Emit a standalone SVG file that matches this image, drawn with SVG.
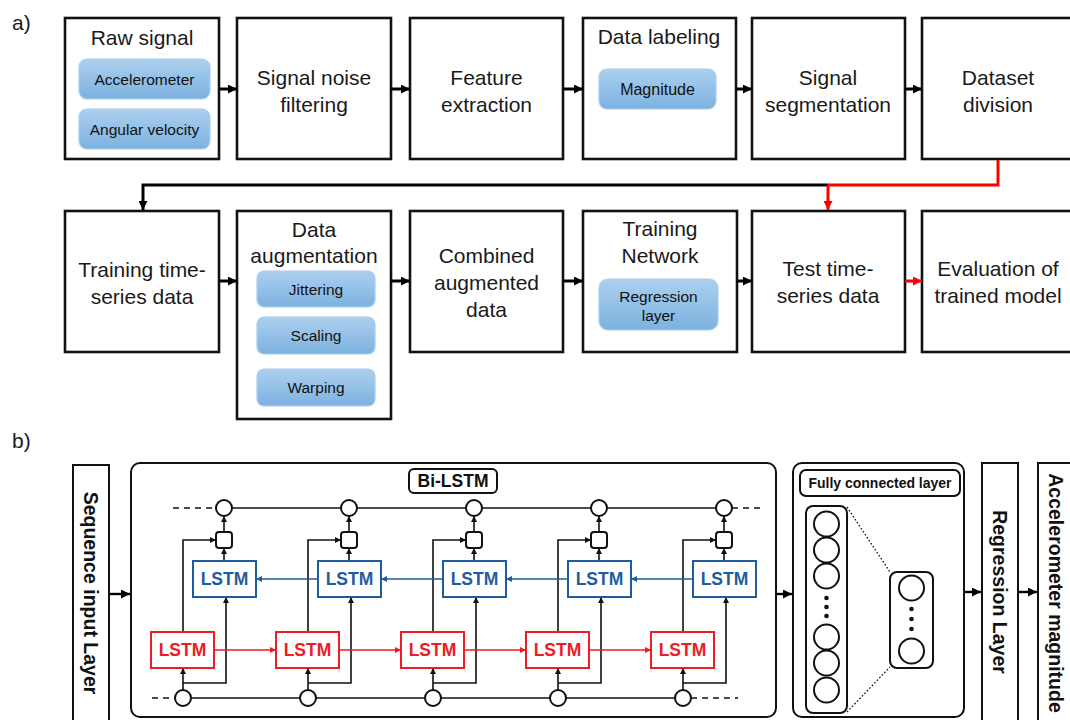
<svg xmlns="http://www.w3.org/2000/svg" width="1070" height="720" viewBox="0 0 1070 720">
<defs>
<style>
.box{fill:#fff;stroke:#111;stroke-width:2.6}
.t{font-family:"Liberation Sans",Arial,sans-serif;font-size:21px;fill:#1a1a1a;text-anchor:middle;dominant-baseline:central}
.lab{font-family:"Liberation Sans",Arial,sans-serif;font-size:21px;fill:#1a1a1a;dominant-baseline:central}
.pill{fill:url(#pg);stroke:#a9cdee;stroke-width:1.2}
.pt{font-family:"Liberation Sans",Arial,sans-serif;font-size:15.5px;fill:#111;text-anchor:middle;dominant-baseline:central}
.ar{fill:none;stroke:#000;stroke-width:3}
.arr{fill:none;stroke:#f00;stroke-width:3}
.rbox{fill:#fff;stroke:#111;stroke-width:2;}
.vt{font-family:"Liberation Sans",Arial,sans-serif;font-size:19.5px;font-weight:bold;fill:#111;text-anchor:middle;dominant-baseline:central}
.bl{fill:#fff;stroke:#1f5c9e;stroke-width:2}
.rd{fill:#fff;stroke:#ee1c24;stroke-width:2}
.lt{font-family:"Liberation Sans",Arial,sans-serif;font-size:17.5px;font-weight:bold;text-anchor:middle;dominant-baseline:central}
.ln{fill:none;stroke:#111;stroke-width:1.6}
.lnb{fill:none;stroke:#1f5c9e;stroke-width:1.6}
.lnr{fill:none;stroke:#ee1c24;stroke-width:1.6}
.dash{fill:none;stroke:#111;stroke-width:1.6;stroke-dasharray:6 5}
.nd{fill:#fff;stroke:#111;stroke-width:2}
.fc{fill:#fff;stroke:#111;stroke-width:2}
</style>
<linearGradient id="pg" x1="0" y1="0" x2="0" y2="1">
<stop offset="0" stop-color="#acd0ef"/>
<stop offset="1" stop-color="#7cb1df"/>
</linearGradient>
<marker id="ah" viewBox="0 0 10 10" refX="10" refY="5" markerWidth="9" markerHeight="9" markerUnits="userSpaceOnUse" orient="auto"><path d="M0,0 L10,5 L0,10 z" fill="#000"/></marker>
<marker id="ahr" viewBox="0 0 10 10" refX="10" refY="5" markerWidth="9" markerHeight="9" markerUnits="userSpaceOnUse" orient="auto"><path d="M0,0 L10,5 L0,10 z" fill="#f00"/></marker>
<marker id="as" viewBox="0 0 10 10" refX="10" refY="5" markerWidth="6" markerHeight="6" markerUnits="userSpaceOnUse" orient="auto"><path d="M0,0 L10,5 L0,10 z" fill="#111"/></marker>
<marker id="asb" viewBox="0 0 10 10" refX="10" refY="5" markerWidth="6" markerHeight="6" markerUnits="userSpaceOnUse" orient="auto"><path d="M0,0 L10,5 L0,10 z" fill="#1f5c9e"/></marker>
<marker id="asr" viewBox="0 0 10 10" refX="10" refY="5" markerWidth="6" markerHeight="6" markerUnits="userSpaceOnUse" orient="auto"><path d="M0,0 L10,5 L0,10 z" fill="#ee1c24"/></marker>
</defs>
<rect width="1070" height="720" fill="#fff"/>

<text class="lab" x="12" y="22">a)</text>
<text class="lab" x="12" y="440">b)</text>

<!-- Part a, row 1 -->
<g id="raw-signal">
<rect class="box" x="65" y="18" width="154" height="141"/>
<text class="t" x="142" y="37">Raw signal</text>
<rect class="pill" x="79" y="59" width="131" height="40" rx="8"/>
<text class="pt" x="144.5" y="79">Accelerometer</text>
<rect class="pill" x="79" y="109" width="131" height="40" rx="8"/>
<text class="pt" x="144.5" y="129">Angular velocity</text>
</g>
<g id="signal-noise-filtering">
<rect class="box" x="237" y="18" width="154" height="141"/>
<text class="t" x="314" y="77">Signal noise</text>
<text class="t" x="314" y="104">filtering</text>
</g>
<g id="feature-extraction">
<rect class="box" x="410" y="18" width="153" height="141"/>
<text class="t" x="486.5" y="77">Feature</text>
<text class="t" x="486.5" y="104">extraction</text>
</g>
<g id="data-labeling">
<rect class="box" x="583" y="18" width="153" height="141"/>
<text class="t" x="659" y="36">Data labeling</text>
<rect class="pill" x="599" y="69" width="117" height="40" rx="8"/>
<text class="pt" x="657.5" y="89" style="font-size:16px">Magnitude</text>
</g>
<g id="signal-segmentation">
<rect class="box" x="752" y="18" width="153" height="141"/>
<text class="t" x="828" y="77">Signal</text>
<text class="t" x="828" y="104">segmentation</text>
</g>
<g id="dataset-division">
<rect class="box" x="922" y="18" width="153" height="141"/>
<text class="t" x="998" y="77">Dataset</text>
<text class="t" x="998" y="104">division</text>
</g>

<!-- Part a, row 2 -->
<g id="training-data">
<rect class="box" x="65" y="211" width="154" height="141"/>
<text class="t" x="142" y="269">Training time-</text>
<text class="t" x="142" y="296">series data</text>
</g>
<g id="data-augmentation">
<rect class="box" x="237" y="211" width="154" height="208"/>
<text class="t" x="314" y="229">Data</text>
<text class="t" x="314" y="255">augmentation</text>
<rect class="pill" x="257" y="271" width="118" height="36" rx="7"/>
<text class="pt" x="316" y="289">Jittering</text>
<rect class="pill" x="257" y="317" width="118" height="37" rx="7"/>
<text class="pt" x="316" y="335.5">Scaling</text>
<rect class="pill" x="257" y="369" width="118" height="37" rx="7"/>
<text class="pt" x="316" y="387.5">Warping</text>
</g>
<g id="combined-augmented-data">
<rect class="box" x="410" y="211" width="153" height="141"/>
<text class="t" x="486.5" y="255">Combined</text>
<text class="t" x="486.5" y="282">augmented</text>
<text class="t" x="486.5" y="309">data</text>
</g>
<g id="training-network">
<rect class="box" x="583" y="211" width="154" height="141"/>
<text class="t" x="660" y="228">Training</text>
<text class="t" x="660" y="255">Network</text>
<rect class="pill" x="599" y="279" width="119" height="51" rx="9"/>
<text class="pt" x="658.5" y="296">Regression</text>
<text class="pt" x="658.5" y="315">layer</text>
</g>
<g id="test-data">
<rect class="box" x="752" y="211" width="153" height="141"/>
<text class="t" x="828" y="268">Test time-</text>
<text class="t" x="828" y="295">series data</text>
</g>
<g id="evaluation">
<rect class="box" x="922" y="211" width="153" height="141"/>
<text class="t" x="998" y="268">Evaluation of</text>
<text class="t" x="998" y="295">trained model</text>
</g>

<!-- Part b nodes -->
<g id="sequence-input">
<rect class="box" x="73" y="465" width="36" height="262" style="stroke-width:2"/>
<text class="vt" transform="translate(91,593) rotate(90)">Sequence input Layer</text>
</g>

<g id="bi-lstm">
<rect class="rbox" x="131" y="463" width="645" height="254" rx="9"/>
<rect class="rbox" x="409" y="469" width="88" height="24" rx="5"/>
<text class="lt" x="453" y="481" fill="#111">Bi-LSTM</text>
<path class="ln" d="M224,508 H724"/>
<path class="dash" d="M173,508 H216"/>
<path class="dash" d="M732,508 H762"/>
<path class="ln" d="M183,698 H683"/>
<path class="dash" d="M152,698 H175"/>
<path class="dash" d="M691,698 H738"/>
<g id="bi-lstm-links">
<path class="ln" d="M224,532 V516" marker-end="url(#as)"/>
<path class="ln" d="M349,532 V516" marker-end="url(#as)"/>
<path class="ln" d="M474,532 V516" marker-end="url(#as)"/>
<path class="ln" d="M599,532 V516" marker-end="url(#as)"/>
<path class="ln" d="M724,532 V516" marker-end="url(#as)"/>
<path class="ln" d="M224,561 V548" marker-end="url(#as)"/>
<path class="ln" d="M349,561 V548" marker-end="url(#as)"/>
<path class="ln" d="M474,561 V548" marker-end="url(#as)"/>
<path class="ln" d="M599,561 V548" marker-end="url(#as)"/>
<path class="ln" d="M724,561 V548" marker-end="url(#as)"/>
<path class="ln" d="M183,690 V668" marker-end="url(#as)"/>
<path class="ln" d="M308,690 V668" marker-end="url(#as)"/>
<path class="ln" d="M433,690 V668" marker-end="url(#as)"/>
<path class="ln" d="M558,690 V668" marker-end="url(#as)"/>
<path class="ln" d="M683,690 V668" marker-end="url(#as)"/>
<path class="ln" d="M183,683 H226 V597" marker-end="url(#as)"/>
<path class="ln" d="M308,683 H351 V597" marker-end="url(#as)"/>
<path class="ln" d="M433,683 H476 V597" marker-end="url(#as)"/>
<path class="ln" d="M558,683 H601 V597" marker-end="url(#as)"/>
<path class="ln" d="M683,683 H726 V597" marker-end="url(#as)"/>
<path class="ln" d="M183,632 V540 H216" marker-end="url(#as)"/>
<path class="ln" d="M308,632 V540 H341" marker-end="url(#as)"/>
<path class="ln" d="M433,632 V540 H466" marker-end="url(#as)"/>
<path class="ln" d="M558,632 V540 H591" marker-end="url(#as)"/>
<path class="ln" d="M683,632 V540 H716" marker-end="url(#as)"/>
<path class="lnr" d="M214,650 H276" marker-end="url(#asr)"/>
<path class="lnr" d="M339,650 H401" marker-end="url(#asr)"/>
<path class="lnr" d="M464,650 H526" marker-end="url(#asr)"/>
<path class="lnr" d="M589,650 H651" marker-end="url(#asr)"/>
<path class="lnb" d="M318,579 H256" marker-end="url(#asb)"/>
<path class="lnb" d="M443,579 H381" marker-end="url(#asb)"/>
<path class="lnb" d="M568,579 H506" marker-end="url(#asb)"/>
<path class="lnb" d="M693,579 H631" marker-end="url(#asb)"/>
</g>
<circle class="nd" cx="224" cy="508" r="8"/>
<circle class="nd" cx="349" cy="508" r="8"/>
<circle class="nd" cx="474" cy="508" r="8"/>
<circle class="nd" cx="599" cy="508" r="8"/>
<circle class="nd" cx="724" cy="508" r="8"/>
<rect class="nd" x="216" y="532" width="16" height="16" rx="3"/>
<rect class="nd" x="341" y="532" width="16" height="16" rx="3"/>
<rect class="nd" x="466" y="532" width="16" height="16" rx="3"/>
<rect class="nd" x="591" y="532" width="16" height="16" rx="3"/>
<rect class="nd" x="716" y="532" width="16" height="16" rx="3"/>
<rect class="bl" x="193" y="561" width="63" height="36"/>
<rect class="bl" x="318" y="561" width="63" height="36"/>
<rect class="bl" x="443" y="561" width="63" height="36"/>
<rect class="bl" x="568" y="561" width="63" height="36"/>
<rect class="bl" x="693" y="561" width="63" height="36"/>
<text class="lt" fill="#1f5c9e" x="224.5" y="579">LSTM</text>
<text class="lt" fill="#1f5c9e" x="349.5" y="579">LSTM</text>
<text class="lt" fill="#1f5c9e" x="474.5" y="579">LSTM</text>
<text class="lt" fill="#1f5c9e" x="599.5" y="579">LSTM</text>
<text class="lt" fill="#1f5c9e" x="724.5" y="579">LSTM</text>
<rect class="rd" x="151" y="632" width="63" height="36"/>
<rect class="rd" x="276" y="632" width="63" height="36"/>
<rect class="rd" x="401" y="632" width="63" height="36"/>
<rect class="rd" x="526" y="632" width="63" height="36"/>
<rect class="rd" x="651" y="632" width="63" height="36"/>
<text class="lt" fill="#ee1c24" x="182.5" y="650">LSTM</text>
<text class="lt" fill="#ee1c24" x="307.5" y="650">LSTM</text>
<text class="lt" fill="#ee1c24" x="432.5" y="650">LSTM</text>
<text class="lt" fill="#ee1c24" x="557.5" y="650">LSTM</text>
<text class="lt" fill="#ee1c24" x="682.5" y="650">LSTM</text>
<circle class="nd" cx="183" cy="698" r="8"/>
<circle class="nd" cx="308" cy="698" r="8"/>
<circle class="nd" cx="433" cy="698" r="8"/>
<circle class="nd" cx="558" cy="698" r="8"/>
<circle class="nd" cx="683" cy="698" r="8"/>
</g>

<g id="fully-connected">
<rect class="rbox" x="793" y="463" width="171" height="254" rx="9"/>
<rect class="rbox" x="800" y="470" width="160" height="26" rx="6"/>
<text class="lt" x="880" y="483" fill="#111" style="font-size:14px">Fully connected layer</text>
<rect class="rbox" x="806" y="506" width="41" height="207" rx="7"/>
<circle class="fc" cx="826.5" cy="524" r="12.5"/>
<circle class="fc" cx="826.5" cy="550" r="12.5"/>
<circle class="fc" cx="826.5" cy="576" r="12.5"/>
<circle cx="826.5" cy="598" r="2.3" fill="#111"/>
<circle cx="826.5" cy="607" r="2.3" fill="#111"/>
<circle cx="826.5" cy="616" r="2.3" fill="#111"/>
<circle class="fc" cx="826.5" cy="637" r="12.5"/>
<circle class="fc" cx="826.5" cy="663" r="12.5"/>
<circle class="fc" cx="826.5" cy="690" r="12.5"/>
<rect class="rbox" x="890" y="572" width="43" height="96" rx="7"/>
<circle class="fc" cx="911.5" cy="588" r="12.5"/>
<circle class="fc" cx="911.5" cy="651" r="12.5"/>
<circle cx="911.5" cy="609" r="2.3" fill="#111"/>
<circle cx="911.5" cy="619" r="2.3" fill="#111"/>
<circle cx="911.5" cy="629" r="2.3" fill="#111"/>
<path d="M847,507 L890,572 M847,712 L890,667" fill="none" stroke="#111" stroke-width="1.3" stroke-dasharray="1.6 2"/>
</g>

<g id="regression-layer">
<rect class="box" x="982" y="463" width="36" height="264" style="stroke-width:2"/>
<text class="vt" transform="translate(1000,592) rotate(90)">Regression Layer</text>
</g>
<g id="accelerometer-magnitude">
<rect class="box" x="1038" y="463" width="40" height="264" style="stroke-width:2"/>
<text class="vt" transform="translate(1056,593) rotate(90)">Accelerometer magnitude</text>
</g>

<g id="connectors">
<path class="ar" d="M219,89 H237" marker-end="url(#ah)"/>
<path class="ar" d="M391,89 H410" marker-end="url(#ah)"/>
<path class="ar" d="M563,89 H583" marker-end="url(#ah)"/>
<path class="ar" d="M736,89 H752" marker-end="url(#ah)"/>
<path class="ar" d="M905,89 H922" marker-end="url(#ah)"/>
<path class="arr" d="M998,160 V185 H828"/>
<path class="ar" d="M828,185 H143 V210" marker-end="url(#ah)"/>
<path class="arr" d="M828,185 V210" marker-end="url(#ahr)"/>
<path class="ar" d="M219,281 H237" marker-end="url(#ah)"/>
<path class="ar" d="M391,281 H410" marker-end="url(#ah)"/>
<path class="ar" d="M563,281 H583" marker-end="url(#ah)"/>
<path class="ar" d="M737,281 H752" marker-end="url(#ah)"/>
<path class="arr" d="M905,281 H922" marker-end="url(#ahr)"/>
<path class="ar" d="M110,594 H130" style="stroke-width:2.4" marker-end="url(#ah)"/>
<path class="ar" d="M777,594 H792" style="stroke-width:2.4" marker-end="url(#ah)"/>
<path class="ar" d="M964,592 H981" style="stroke-width:2.4" marker-end="url(#ah)"/>
<path class="ar" d="M1018,592 H1037" style="stroke-width:2.4" marker-end="url(#ah)"/>
</g>
</svg>
